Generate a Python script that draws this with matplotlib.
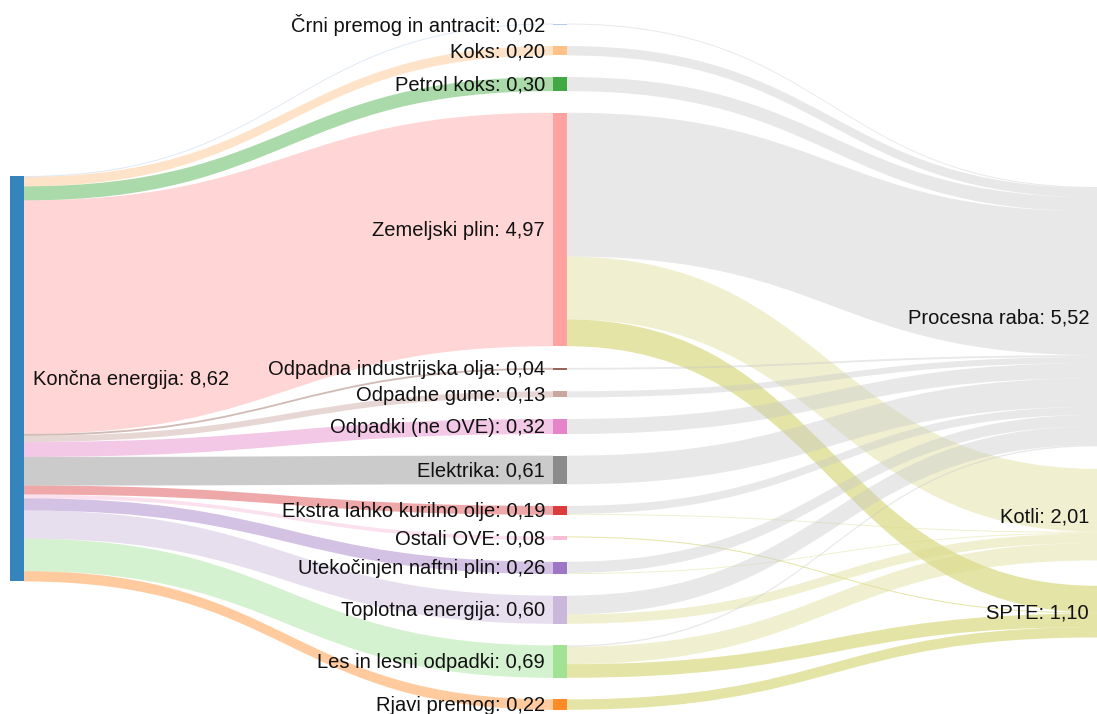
import matplotlib.pyplot as plt
from matplotlib.path import Path
from matplotlib.patches import PathPatch, Rectangle

plt.rcParams['font.family'] = ['Liberation Sans', 'DejaVu Sans']

# vozlisca
source_name = 'Končna energija'
source_value = 8.62

carriers = ['Črni premog in antracit', 'Koks', 'Petrol koks', 'Zemeljski plin',
            'Odpadna industrijska olja', 'Odpadne gume', 'Odpadki (ne OVE)',
            'Elektrika', 'Ekstra lahko kurilno olje', 'Ostali OVE',
            'Utekočinjen naftni plin', 'Toplotna energija',
            'Les in lesni odpadki', 'Rjavi premog']
carrier_values = [0.02, 0.20, 0.30, 4.97, 0.04, 0.13, 0.32, 0.61, 0.19, 0.08,
                  0.26, 0.60, 0.69, 0.22]

uses = ['Procesna raba', 'Kotli', 'SPTE']
use_values = [5.52, 2.01, 1.10]

# tokovi nosilec -> namen
to_process = [0.02, 0.20, 0.30, 3.06, 0.04, 0.13, 0.32, 0.61, 0.17, 0, 0.24, 0.40, 0.03, 0]
to_boilers = [0, 0, 0, 1.34, 0, 0, 0, 0, 0.02, 0, 0.02, 0.20, 0.37, 0]
to_chp = [0, 0, 0, 0.57, 0, 0, 0, 0, 0, 0.02, 0, 0, 0.29, 0.22]

source_color = '#1f77b4'
carrier_colors = ['#aec7e8', '#ffbb78', '#2ca02c', '#ff9896', '#8c564b', '#c49c94',
                  '#e377c2', '#7f7f7f', '#d62728', '#f7b6d2', '#9467bd', '#c5b0d5',
                  '#98df8a', '#ff7f0e']
use_colors = ['#c7c7c7', '#dbdb8d', '#bcbd22']

W, H = 1097, 714
k = 46.98          # px na enoto
node_w = 14
col_x = [10, 553, 1097]


def fmt(v):
    return f"{v:.2f}".replace('.', ',')


def band(ax, x0, x1, y0, y1, w, color):
    w = max(w, 1.0)
    xm = (x0 + x1) / 2
    verts = [(x0, y0), (xm, y0), (xm, y1), (x1, y1),
             (x1, y1 + w), (xm, y1 + w), (xm, y0 + w), (x0, y0 + w), (x0, y0)]
    codes = [Path.MOVETO, Path.CURVE4, Path.CURVE4, Path.CURVE4,
             Path.LINETO, Path.CURVE4, Path.CURVE4, Path.CURVE4, Path.CLOSEPOLY]
    ax.add_patch(PathPatch(Path(verts, codes), facecolor=color, edgecolor='none',
                           alpha=0.4, zorder=1))


fig = plt.figure(figsize=(W / 100, H / 100), dpi=100)
ax = fig.add_axes([0, 0, 1, 1])
ax.set_xlim(0, W)
ax.set_ylim(H, 0)
ax.axis('off')

# pozicije
src_y = 176
mid_y = []
y = 23.5
for v in carrier_values:
    mid_y.append(y)
    y += v * k + 21.6
use_y = []
y = 187
for v in use_values:
    use_y.append(y)
    y += v * k + 22.5

# levi tokovi
off = src_y
for i, v in enumerate(carrier_values):
    band(ax, col_x[0] + node_w, col_x[1], off, mid_y[i], v * k, carrier_colors[i])
    off += v * k

# desni tokovi
flows = [to_process, to_boilers, to_chp]
mid_off = list(mid_y)
use_off = list(use_y)
for i in range(len(carriers)):
    for j, fl in enumerate(flows):
        v = fl[i]
        if v <= 0:
            continue
        band(ax, col_x[1] + node_w, col_x[2], mid_off[i], use_off[j], v * k, use_colors[j])
        mid_off[i] += v * k
        use_off[j] += v * k

# vozlisca
fs = 14.5
tc = '#111111'
ax.add_patch(Rectangle((col_x[0], src_y), node_w, source_value * k,
                       facecolor=source_color, alpha=0.9, zorder=2))
ax.text(col_x[0] + node_w + 9, src_y + source_value * k / 2 + 1,
        f"{source_name}: {fmt(source_value)}", ha='left', va='center',
        fontsize=fs, color=tc, zorder=3)

for i, name in enumerate(carriers):
    h = max(carrier_values[i] * k, 1.0)
    ax.add_patch(Rectangle((col_x[1], mid_y[i]), node_w, h,
                           facecolor=carrier_colors[i], alpha=0.9, zorder=2))
    ax.text(col_x[1] - 8, mid_y[i] + carrier_values[i] * k / 2 + 1,
            f"{name}: {fmt(carrier_values[i])}", ha='right', va='center',
            fontsize=fs, color=tc, zorder=3)

for j, name in enumerate(uses):
    ax.add_patch(Rectangle((col_x[2], use_y[j]), node_w, use_values[j] * k,
                           facecolor=use_colors[j], alpha=0.9, zorder=2))
    ax.text(col_x[2] - 8, use_y[j] + use_values[j] * k / 2 + 1,
            f"{name}: {fmt(use_values[j])}", ha='right', va='center',
            fontsize=fs, color=tc, zorder=3)

fig.savefig('out.png', dpi=100, facecolor='white')
